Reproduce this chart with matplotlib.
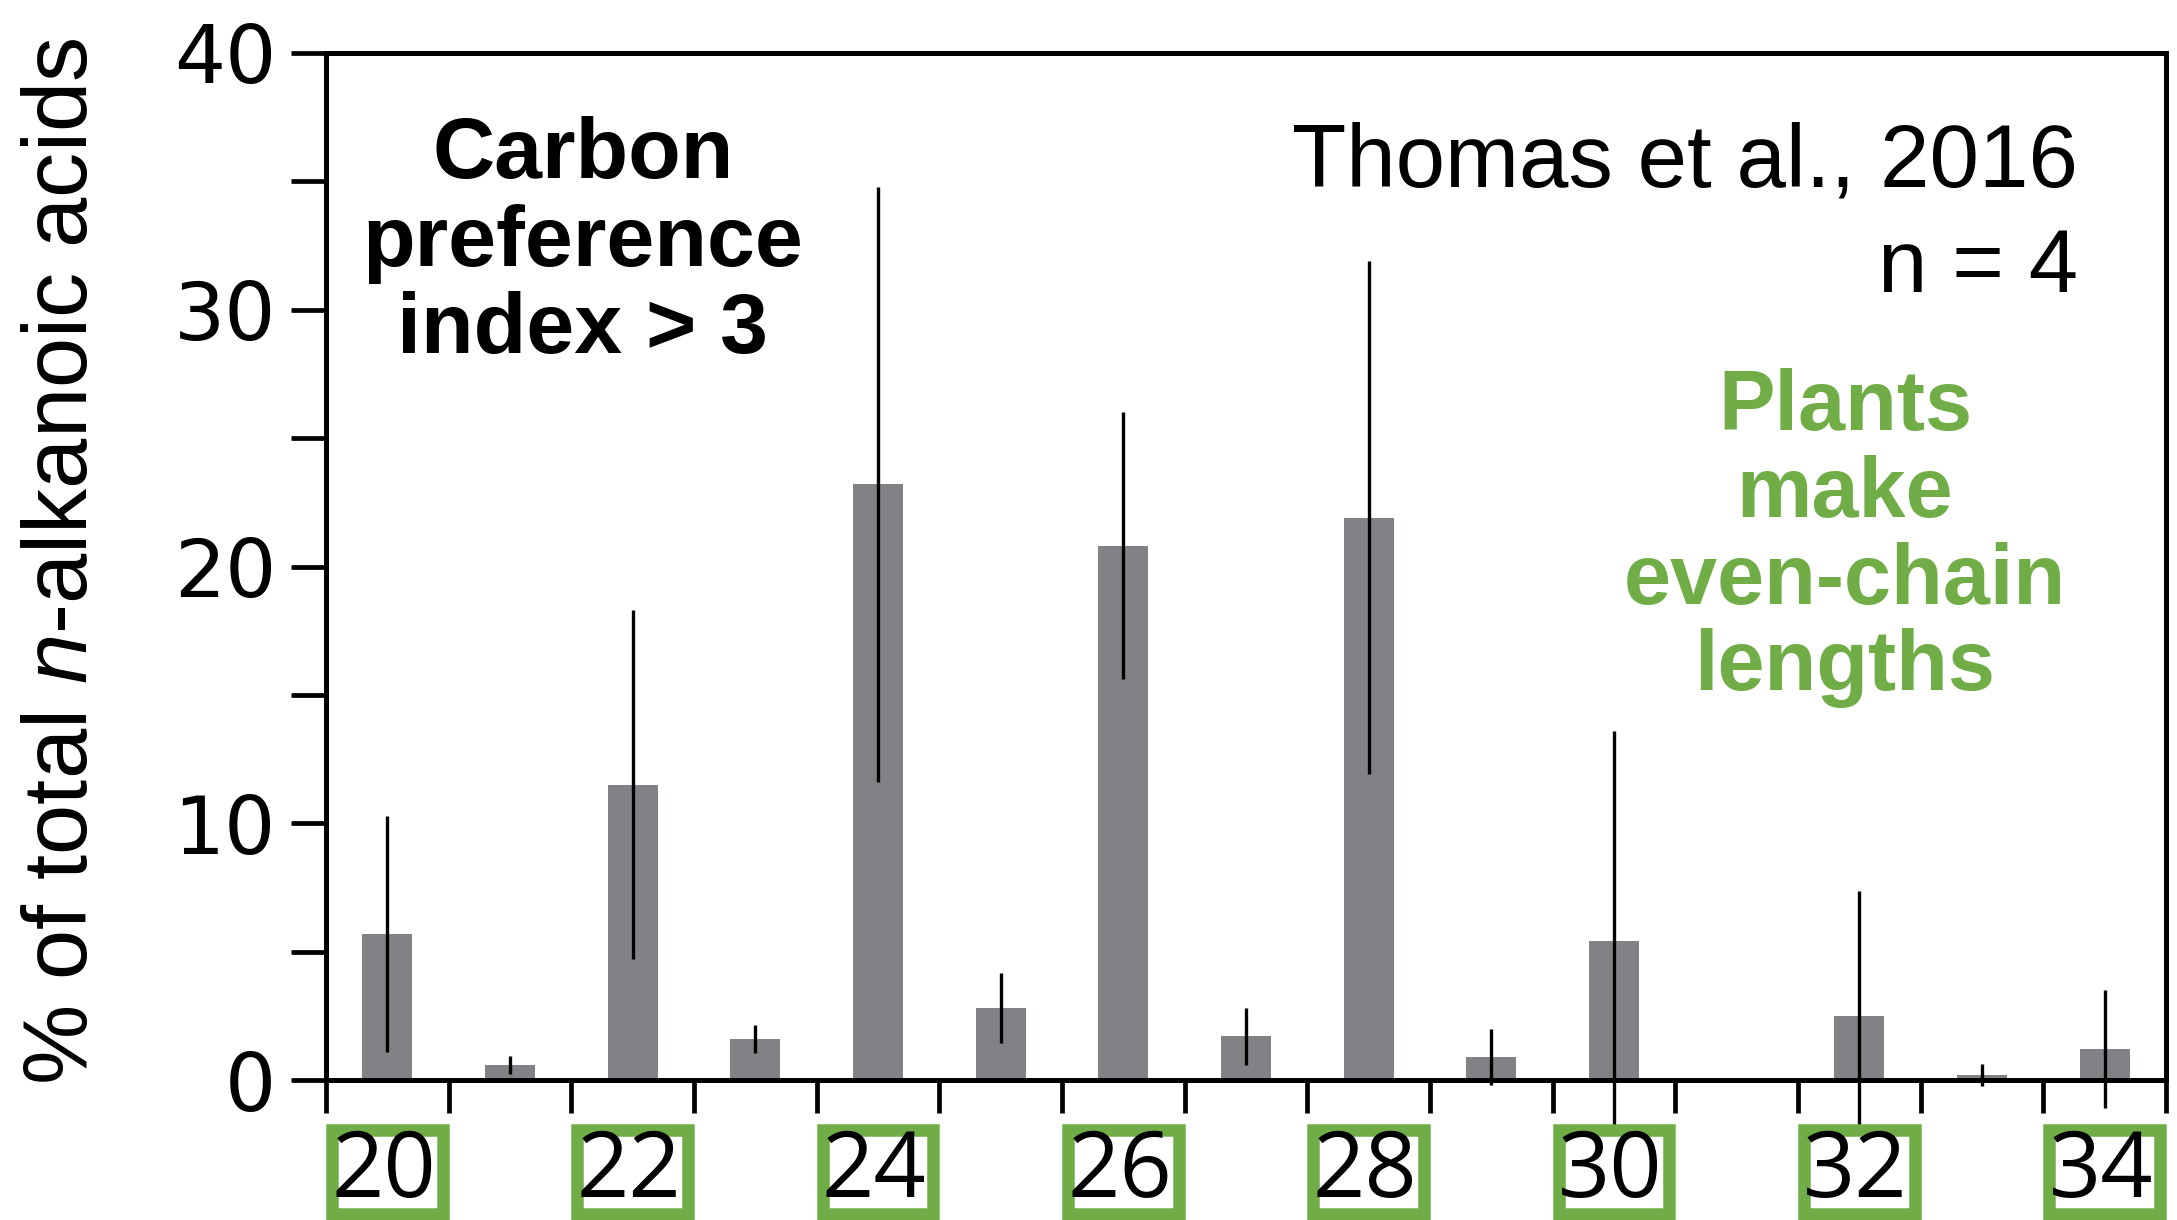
import numpy as np
import matplotlib
matplotlib.use("Agg")
import matplotlib.pyplot as plt
from matplotlib.patches import Rectangle
from matplotlib.transforms import blended_transform_factory

# ---- data ----
chain_lengths = [20, 21, 22, 23, 24, 25, 26, 27, 28, 29, 30, 31, 32, 33, 34]
percent_mean = [5.7, 0.6, 11.5, 1.6, 23.2, 2.8, 20.8, 1.7, 21.9, 0.9, 5.4, 0.0, 2.5, 0.2, 1.2]
percent_err = [4.6, 0.35, 6.8, 0.55, 11.6, 1.35, 5.2, 1.1, 10.0, 1.1, 8.2, 0.0, 4.85, 0.42, 2.3]
y_ticks = [0, 10, 20, 30, 40]
y_minor = [5, 15, 25, 35]

W, H = 2177, 1220
DPI = 100
GREEN = "#70AD47"
BAR = "#808285"

plt.rcParams["mathtext.fontset"] = "custom"
plt.rcParams["mathtext.rm"] = "Liberation Sans"
plt.rcParams["mathtext.it"] = "Liberation Sans:italic"

fig = plt.figure(figsize=(W / DPI, H / DPI), dpi=DPI)

def fx(x):
    return x / W

def fy(y):
    return 1 - y / H

ax_l, ax_r, ax_t, ax_b = 326, 2166, 53, 1080
ax = fig.add_axes([fx(ax_l), fy(ax_b), (ax_r - ax_l) / W, (ax_b - ax_t) / H])

n = len(chain_lengths)
pos = np.arange(n) + 0.5
ax.bar(pos, percent_mean, width=0.41, color=BAR, linewidth=0, zorder=1)
ax.errorbar(pos, percent_mean, yerr=percent_err, fmt="none", ecolor="black",
            elinewidth=2.4, capsize=0, zorder=2, clip_on=False)

ax.set_xlim(0, n)
ax.set_ylim(0, 40)
ax.set_xticks(np.arange(n + 1))
ax.set_xticklabels([])
ax.set_yticks(y_ticks)
ax.set_yticks(y_minor, minor=True)
ax.set_yticklabels([str(t) for t in y_ticks], fontfamily="DejaVu Sans", fontsize=58)
ax.tick_params(axis="y", which="both", direction="out", length=25, width=3.4, pad=11)
ax.tick_params(axis="x", which="both", direction="out", length=24, width=3.4)
for s in ax.spines.values():
    s.set_linewidth(3.6)

# boxed even-chain labels
trans = blended_transform_factory(ax.transData, fig.transFigure)
for p, c in zip(pos, chain_lengths):
    if c % 2 == 0:
        y0 = fy(1214)
        y1 = fy(1130)
        r = Rectangle((p - 0.45, y0), 0.9, y1 - y0, transform=trans,
                      facecolor="white", edgecolor=GREEN, linewidth=9.0,
                      clip_on=False, zorder=5)
        ax.add_patch(r)
        ax.text(p - 0.03, fy(1197), str(c), transform=trans, ha="center",
                va="baseline", fontsize=66, fontfamily="Open Sans",
                color="black", zorder=6, clip_on=False)

# y label
fig.text(fx(21), fy(561), "% of total $n$-alkanoic acids", rotation=90,
         ha="left", va="center", fontsize=65, fontfamily="Liberation Sans")

# annotations
for txt, yb in zip(["Carbon", "preference", "index > 3"], [178, 266, 353]):
    fig.text(fx(583), fy(yb), txt, ha="center", va="baseline", fontsize=62,
             fontweight="bold", fontfamily="Liberation Sans", color="black")

for txt, yb in zip(["Thomas et al., 2016", "n = 4"], [186, 292]):
    fig.text(fx(2078), fy(yb), txt, ha="right", va="baseline", fontsize=64,
             fontfamily="Liberation Sans", color="black")

for txt, yb in zip(["Plants", "make", "even-chain", "lengths"], [430, 517, 604, 690]):
    fig.text(fx(1845), fy(yb), txt, ha="center", va="baseline", fontsize=61,
             fontweight="bold", fontfamily="Liberation Sans", color=GREEN)

fig.savefig("out.png", dpi=DPI)
